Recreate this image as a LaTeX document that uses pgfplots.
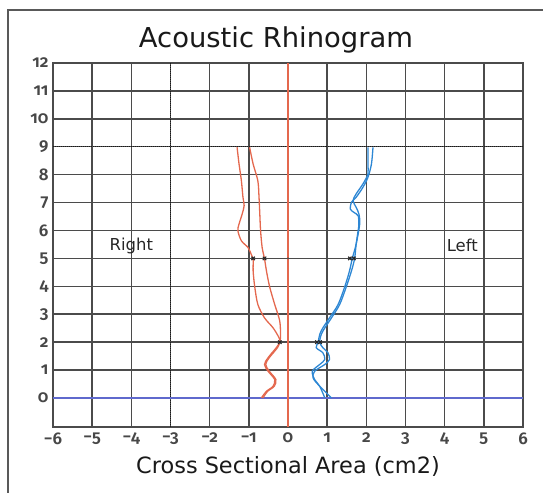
\documentclass[border=0pt]{standalone}
\usepackage{pgfplots}
\pgfplotsset{compat=1.18}
\usepackage{fontspec}
\setmainfont{DejaVu Sans}
\newfontfamily\tickfont[Numbers=OldStyle]{Fira Sans SemiBold}
\newcommand\tl[1]{\hbox{\tickfont\fontsize{17}{17}\selectfont\color{black!72}#1}}

\definecolor{rhred}{RGB}{228,104,78}
\definecolor{rhblue}{RGB}{45,135,212}
\definecolor{zeroblue}{RGB}{95,105,205}
\definecolor{gridgray}{RGB}{75,75,75}

\begin{document}
\begin{tikzpicture}[x=1bp,y=1bp]
\useasboundingbox (0,0) rectangle (543,493);
\draw[black!65, line width=2.5bp] (8,-2) -- (8,483) -- (545,483);
\node[font=\fontsize{27.5}{30}\selectfont, text=black!90] at (276,453) {Acoustic Rhinogram};
\begin{axis}[
	at={(53bp,66bp)}, anchor=south west,
	scale only axis, width=470bp, height=364bp,
	xmin=-6, xmax=6, ymin=-1.04, ymax=12,
	xtick={-6,...,6}, ytick={0,...,12},
	xticklabels={\tl{−6},\tl{−5},\tl{−4},\tl{−3},\tl{−2},\tl{−1},\tl{0},\tl{1},\tl{2},\tl{3},\tl{4},\tl{5},\tl{6}},
	yticklabels={\tl{0},\tl{1},\tl{2},\tl{3},\tl{4},\tl{5},\tl{6},\tl{7},\tl{8},\tl{9},\tl{10},\tl{11},\tl{12}},
	yticklabel style={xshift=-1bp},
	xticklabel style={yshift=-2bp},
	major tick length=0pt,
	grid=major,
	major grid style={gridgray, line width=1.5bp},
	axis line style={gridgray, line width=2bp},
	xlabel={Cross Sectional Area (cm2)},
	xlabel style={font=\fontsize{22.5}{24}\selectfont, text=black!90, yshift=-5bp},
]
% reference lines
\addplot[black!90, densely dotted, line width=1bp] coordinates {(-3,-1.04) (-3,12)};
\addplot[black!90, densely dotted, line width=1bp] coordinates {(-6,9) (6,9)};
\addplot[zeroblue, line width=1.5bp] coordinates {(-6,0) (6,0)};
\addplot[rhred, line width=1.8bp] coordinates {(0,-1.04) (0,12)};

% right side (red)
\addplot[rhred, line width=1.3bp, smooth] coordinates {
(-1.30,8.98) (-1.25,8.38) (-1.19,7.78) (-1.15,7.19) (-1.12,6.89) (-1.17,6.59)
(-1.25,6.23) (-1.28,5.99) (-1.19,5.63) (-1.02,5.39) (-0.94,5.15) (-0.89,4.99)
(-0.89,4.55) (-0.85,3.99) (-0.77,3.35) (-0.60,2.87) (-0.38,2.51) (-0.23,2.16)
(-0.21,2.00) (-0.30,1.80) (-0.51,1.44) (-0.60,1.20) (-0.51,0.96) (-0.34,0.66)
(-0.38,0.42) (-0.55,0.24) (-0.68,0)};
\addplot[rhred, line width=1.3bp, smooth] coordinates {
(-0.98,8.98) (-0.89,8.38) (-0.77,7.78) (-0.74,7.19) (-0.72,6.59) (-0.70,5.99)
(-0.66,5.39) (-0.60,4.99) (-0.55,4.55) (-0.47,3.99) (-0.34,3.35) (-0.21,2.75)
(-0.19,2.16) (-0.21,2.00) (-0.27,1.80) (-0.48,1.44) (-0.57,1.20) (-0.48,0.96)
(-0.31,0.66) (-0.35,0.42) (-0.52,0.24) (-0.64,0)};

% left side (blue)
\addplot[rhblue, line width=1.3bp, smooth] coordinates {
(2.17,8.98) (2.13,8.38) (2.04,7.90) (1.91,7.54) (1.74,7.19) (1.62,7.01)
(1.59,6.77) (1.68,6.65) (1.79,6.53) (1.81,6.23) (1.79,5.99) (1.74,5.51)
(1.70,4.99) (1.62,4.55) (1.49,3.99) (1.32,3.35) (1.11,2.87) (0.94,2.51)
(0.85,2.28) (0.81,2.00) (0.89,1.80) (1.02,1.62) (1.06,1.38) (0.94,1.20)
(0.68,0.96) (0.64,0.72) (0.77,0.48) (0.94,0.24) (1.11,0)};
\addplot[rhblue, line width=1.3bp, smooth] coordinates {
(2.04,8.98) (2.04,8.38) (2.04,8.02) (1.91,7.66) (1.74,7.31) (1.66,7.07)
(1.74,6.83) (1.81,6.59) (1.83,6.23) (1.74,5.51) (1.64,4.99) (1.57,4.55)
(1.45,3.99) (1.28,3.35) (1.06,2.87) (0.89,2.51) (0.81,2.28) (0.77,2.00)
(0.72,1.80) (0.89,1.62) (0.94,1.38) (0.81,1.20) (0.62,0.96) (0.68,0.66)
(0.81,0.42) (0.94,0)};

% cursor marks
\addplot[only marks, mark=x, mark size=2.4bp, black!85, line width=1.2bp] coordinates {
(-0.89,5) (-0.60,5) (1.58,5) (1.68,5) (-0.21,2) (0.74,2) (0.82,2)};
\addplot[only marks, mark=*, mark size=0.8bp, black!70] coordinates {(0,5)};

\node[font=\fontsize{16.5}{18}\selectfont, text=black!85] at (axis cs:-4.0,5.45) {Right};
\node[font=\fontsize{16.5}{18}\selectfont, text=black!85] at (axis cs:4.45,5.45) {Left};
\end{axis}
\end{tikzpicture}
\end{document}
